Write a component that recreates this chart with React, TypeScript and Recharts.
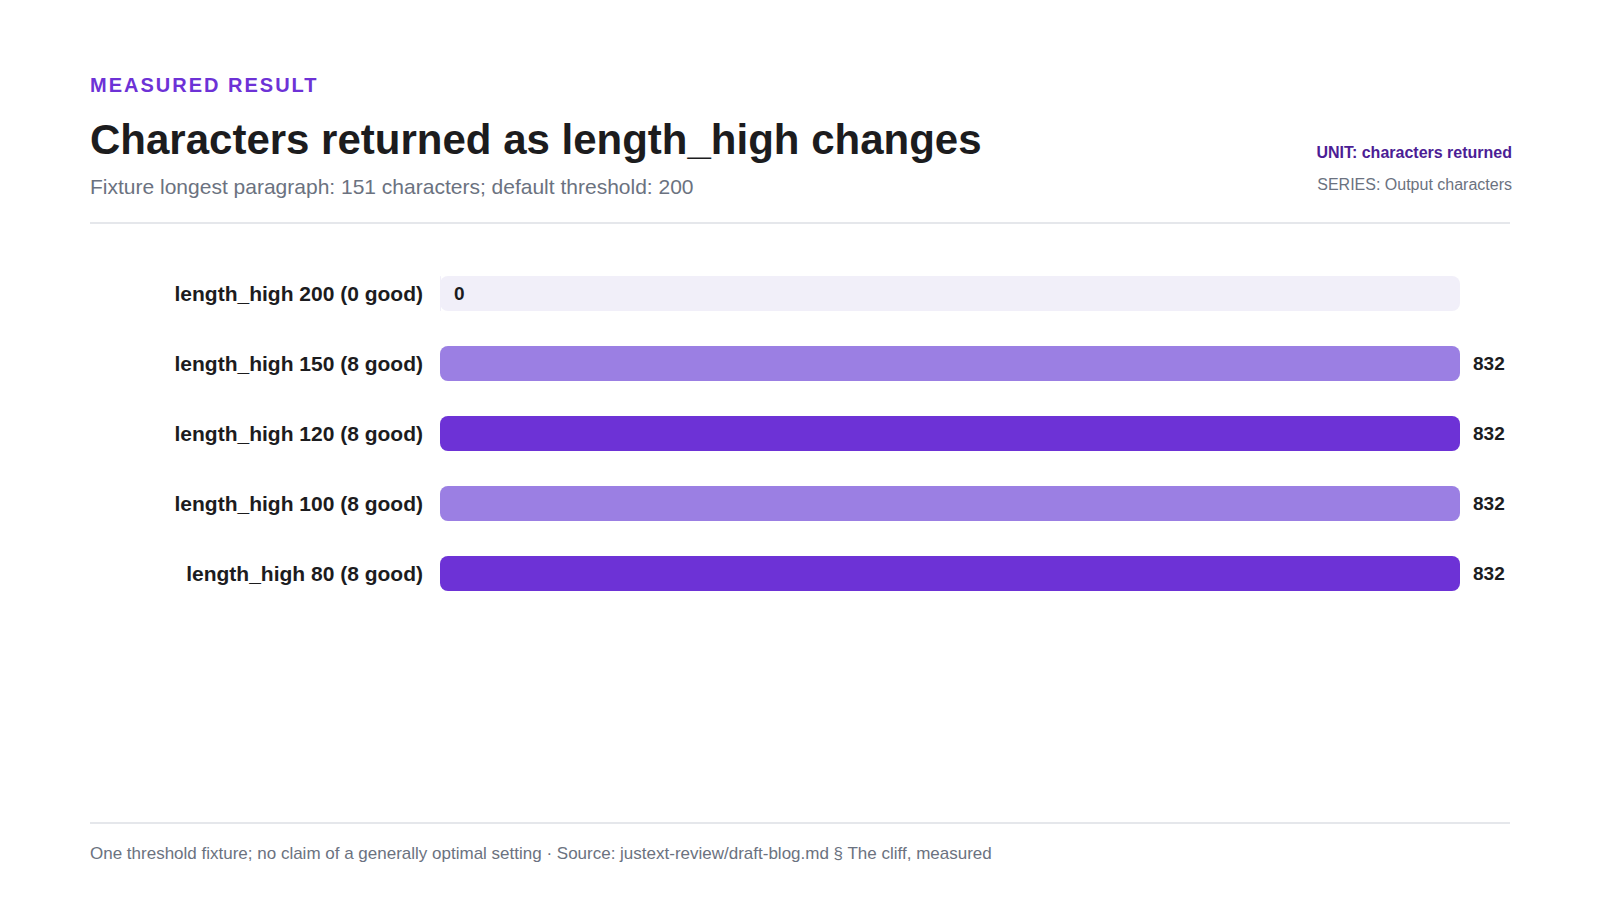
import React from 'react';
import { BarChart, Bar, XAxis, YAxis, Cell, LabelList } from 'recharts';

const CATEGORIES = [
  'length_high 200 (0 good)',
  'length_high 150 (8 good)',
  'length_high 120 (8 good)',
  'length_high 100 (8 good)',
  'length_high 80 (8 good)',
];
const OUTPUT_CHARS = [0, 832, 832, 832, 832];
const BAR_COLORS = ['#f1eff9', '#9b7fe3', '#6d32d6', '#9b7fe3', '#6d32d6'];

const FONT = '"Liberation Sans", Arial, Helvetica, sans-serif';
const TRACK = '#f1eff9';

const data = CATEGORIES.map((name, i) => ({ name, value: OUTPUT_CHARS[i] }));

// Etiqueta da categoria, alinhada à direita
const CategoryTick = ({ x, y, payload }: any) => (
  <text
    x={x - 9}
    y={y}
    textAnchor="end"
    dominantBaseline="central"
    fontFamily={FONT}
    fontSize={21}
    fontWeight={700}
    fill="#1c1c1e"
  >
    {payload.value}
  </text>
);

// Trilho de fundo arredondado
const Track = ({ x, y, width, height }: any) => (
  <rect x={x} y={y} width={width} height={height} rx={8} ry={8} fill={TRACK} />
);

const abs = (top: number, extra: React.CSSProperties = {}): React.CSSProperties => ({
  position: 'absolute',
  top,
  whiteSpace: 'nowrap',
  ...extra,
});

export default function App() {
  return (
    <div
      style={{
        position: 'absolute',
        left: 0,
        top: 0,
        width: 1600,
        height: 900,
        background: '#ffffff',
        fontFamily: FONT,
        overflow: 'hidden',
      }}
    >
      {/* Cabeçalho */}
      <div style={abs(73, { left: 90, fontSize: 20, lineHeight: '24px', fontWeight: 700, letterSpacing: 2, color: '#6d32d6' })}>
        MEASURED RESULT
      </div>
      <div style={abs(115, { left: 90, fontSize: 42, lineHeight: '50px', fontWeight: 700, color: '#1c1c1e' })}>
        Characters returned as length_high changes
      </div>
      <div style={abs(175, { left: 90, fontSize: 21, lineHeight: '24px', color: '#6b7280' })}>
        Fixture longest paragraph: 151 characters; default threshold: 200
      </div>
      <div style={abs(143, { right: 88, fontSize: 16, lineHeight: '20px', fontWeight: 700, color: '#4c1d95', textAlign: 'right' })}>
        UNIT: characters returned
      </div>
      <div style={abs(175, { right: 88, fontSize: 16, lineHeight: '20px', color: '#6b7280', textAlign: 'right' })}>
        SERIES: Output characters
      </div>
      <div style={abs(222, { left: 90, width: 1420, height: 2, background: '#e5e7eb' })} />

      {/* Gráfico */}
      <div style={abs(258, { left: 0 })}>
        <BarChart
          width={1600}
          height={350}
          data={data}
          layout="vertical"
          margin={{ top: 0, right: 140, bottom: 0, left: 0 }}
        >
          <XAxis type="number" domain={[0, 832]} hide />
          <YAxis
            type="category"
            dataKey="name"
            width={440}
            axisLine={false}
            tickLine={false}
            tick={<CategoryTick />}
            interval={0}
          />
          <Bar
            dataKey="value"
            barSize={35}
            radius={8}
            minPointSize={1}
            background={<Track />}
            isAnimationActive={false}
          >
            {data.map((entry, index) => (
              <Cell key={`cell-${index}`} fill={BAR_COLORS[index]} />
            ))}
            <LabelList
              dataKey="value"
              position="right"
              offset={13}
              fill="#1c1c1e"
              fontSize={19}
              fontWeight={700}
              fontFamily={FONT}
            />
          </Bar>
        </BarChart>
      </div>

      {/* Rodapé */}
      <div style={abs(822, { left: 90, width: 1420, height: 2, background: '#e5e7eb' })} />
      <div style={abs(844, { left: 90, fontSize: 17, lineHeight: '20px', color: '#6b7280' })}>
        One threshold fixture; no claim of a generally optimal setting · Source: justext-review/draft-blog.md § The cliff, measured
      </div>
    </div>
  );
}
